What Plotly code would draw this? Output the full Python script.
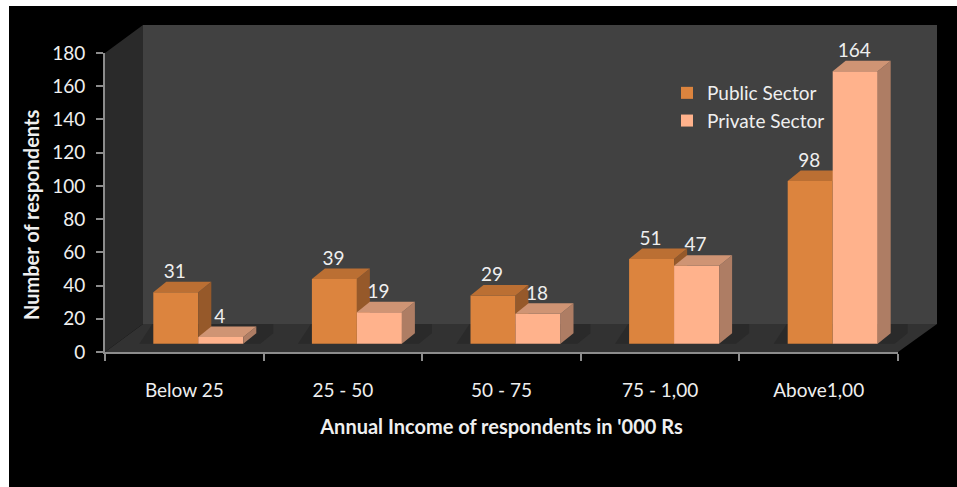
import plotly.graph_objects as go

categories = ["Below 25", "25 - 50", "50 - 75", "75 - 1,00", "Above1,00"]
public_sector = [31, 39, 29, 51, 98]
private_sector = [4, 19, 18, 47, 164]
y_ticks = [0, 20, 40, 60, 80, 100, 120, 140, 160, 180]

W, H = 957, 487
FONT = "Lato"
TXT = "#efefef"
# Pixel frame of the pseudo-3D box
FX0, FX1, FY0, FY1 = 105, 898, 352, 53     # front plane (axes)
BX1, BY_TOP = 937, 25                      # back wall extent
UX = (FX1 - FX0) / 5                       # px per category
UY = (FY0 - FY1) / 180                     # px per value unit
BW = 45 / UX                               # bar width (category units)
SHIFT = 14 / UX                            # bars sit back from the front plane
LIFT = 8.3 / UY
DX, DY = 13 / UX, 10.5 / UY                # bar depth
WX, WY = 38 / UX, 28 / UY                  # box depth

fig = go.Figure()


def add_series(name, values, side, xa, ya, front, dark, top):
    xs = [i + 0.5 + SHIFT for i in range(len(values))]
    offset = -BW if side == 0 else 0
    fig.add_trace(go.Bar(x=xs, y=values, base=LIFT, width=BW, offset=offset, name=name,
                         marker=dict(color=front, line=dict(width=0)),
                         legendgroup=name, xaxis=xa, yaxis=ya, hoverinfo="y"))
    for x, v in zip(xs, values):
        x0, x1 = x + offset, x + offset + BW
        t = LIFT + v
        fig.add_trace(go.Scatter(x=[x1, x1 + DX, x1 + DX, x1, x1],
                                 y=[LIFT, LIFT + DY, t + DY, t, LIFT],
                                 fill="toself", fillcolor=dark, mode="lines", line=dict(width=0),
                                 showlegend=False, hoverinfo="skip", xaxis=xa, yaxis=ya))
        fig.add_trace(go.Scatter(x=[x0, x0 + DX, x1 + DX, x1, x0],
                                 y=[t, t + DY, t + DY, t, t],
                                 fill="toself", fillcolor=top, mode="lines", line=dict(width=0),
                                 showlegend=False, hoverinfo="skip", xaxis=xa, yaxis=ya))
    fig.add_trace(go.Scatter(x=[x + offset + BW / 2 - 1 / UX for x in xs],
                             y=[LIFT + v + DY + 8.5 / UY for v in values],
                             text=[str(v) for v in values], mode="text", textposition="middle center",
                             textfont=dict(family=FONT, size=19, color=TXT), cliponaxis=False,
                             showlegend=False, hoverinfo="skip", xaxis=xa, yaxis=ya))


add_series("Public Sector", public_sector, 0, "x", "y", "#DC843E", "#96592A", "#BB6F33")
# Visible axes live on their own front-plane subplot
fig.add_trace(go.Scatter(x=categories, y=[None] * 5, mode="none", showlegend=False,
                         hoverinfo="skip", xaxis="x2", yaxis="y2"))
add_series("Private Sector", private_sector, 1, "x3", "y3", "#FFB28C", "#AE7D64", "#CF9474")

xr = [0, (BX1 - FX0) / UX]
yr = [0, (FY0 - BY_TOP) / UY]
dom_x = [FX0 / W, BX1 / W]
dom_y = [(H - FY0) / H, (H - BY_TOP) / H]
hidden = dict(visible=False, fixedrange=True)

axis_font = dict(family=FONT, size=19, color=TXT)
line_col = "#8c8c8c"

shapes = [
    dict(type="rect", xref="paper", yref="paper", x0=9 / W, x1=1, y0=0, y1=1 - 6 / H,
         fillcolor="#000000", line=dict(width=0), layer="below"),
    dict(type="path", xref="x", yref="y", layer="below", fillcolor="#414141", line=dict(width=0),
         path=f"M{WX},{WY} L{xr[1]},{WY} L{xr[1]},{yr[1]} L{WX},{yr[1]} Z"),
    dict(type="path", xref="x", yref="y", layer="below", fillcolor="#2A2A2A", line=dict(width=0),
         path=f"M0,0 L{WX},{WY} L{WX},{yr[1]} L0,180 Z"),
    dict(type="path", xref="x", yref="y", layer="below", fillcolor="#323232", line=dict(width=0),
         path=f"M0,0 L5,0 L{xr[1]},{WY} L{WX},{WY} Z"),
]
# Soft floor shadow behind each bar group
for i in range(len(categories)):
    cx = i + 0.5 + SHIFT
    sx0, sx1 = cx - BW - 14 / UX, cx + BW + 30 / UX
    shapes.append(dict(type="path", xref="x", yref="y", layer="below", fillcolor="#2A2A2A",
                       line=dict(width=0),
                       path=f"M{sx0},{LIFT} L{sx1 - DX},{LIFT} L{sx1},{LIFT + DY} L{sx1},{WY} "
                            f"L{sx0 + DX},{WY} Z"))

annotations = [dict(text="<b>Number of respondents</b>", xref="paper", yref="paper", x=31 / W,
                    y=1 - 215 / H, showarrow=False, textangle=-90, xanchor="center", yanchor="middle",
                    font=dict(family=FONT, size=20, color=TXT))]

fig.update_layout(
    width=W, height=H, autosize=False,
    margin=dict(l=0, r=0, t=0, b=0, pad=0, autoexpand=False),
    paper_bgcolor="#ffffff", plot_bgcolor="rgba(0,0,0,0)",
    barmode="overlay", shapes=shapes, annotations=annotations,
    xaxis=dict(domain=dom_x, range=xr, anchor="y", **hidden),
    yaxis=dict(domain=dom_y, range=yr, anchor="x", **hidden),
    xaxis3=dict(domain=dom_x, range=xr, anchor="y3", **hidden),
    yaxis3=dict(domain=dom_y, range=yr, anchor="x3", **hidden),
    xaxis2=dict(domain=[FX0 / W, FX1 / W], anchor="y2", type="category", categoryarray=categories,
                categoryorder="array", range=[-0.5, 4.5], tickson="boundaries", ticks="outside",
                ticklen=7, tickwidth=2, tickcolor=line_col, showline=True, linewidth=2,
                linecolor=line_col, showgrid=False, tickfont=axis_font, ticklabelstandoff=20,
                title=dict(text="Annual Income of respondents in '000 Rs",
                           font=dict(family=FONT, size=20, color=TXT, weight="bold"), standoff=20),
                fixedrange=True),
    yaxis2=dict(domain=[(H - FY0) / H, (H - FY1) / H], anchor="x2", range=[0, 180], tickvals=y_ticks,
                ticks="outside", ticklen=7, tickwidth=2, tickcolor=line_col, showline=True,
                linewidth=2, linecolor=line_col, showgrid=False, zeroline=False, tickfont=axis_font,
                ticklabelstandoff=7, fixedrange=True),
    legend=dict(x=667 / W, y=1 - 74 / H, xanchor="left", yanchor="top", bgcolor="rgba(0,0,0,0)",
                font=dict(family=FONT, size=19, color=TXT), tracegroupgap=13, traceorder="normal"),
    showlegend=True,
)

fig.write_html("out.html", config=dict(displayModeBar=False),
               post_script="document.body.style.margin='0';")
